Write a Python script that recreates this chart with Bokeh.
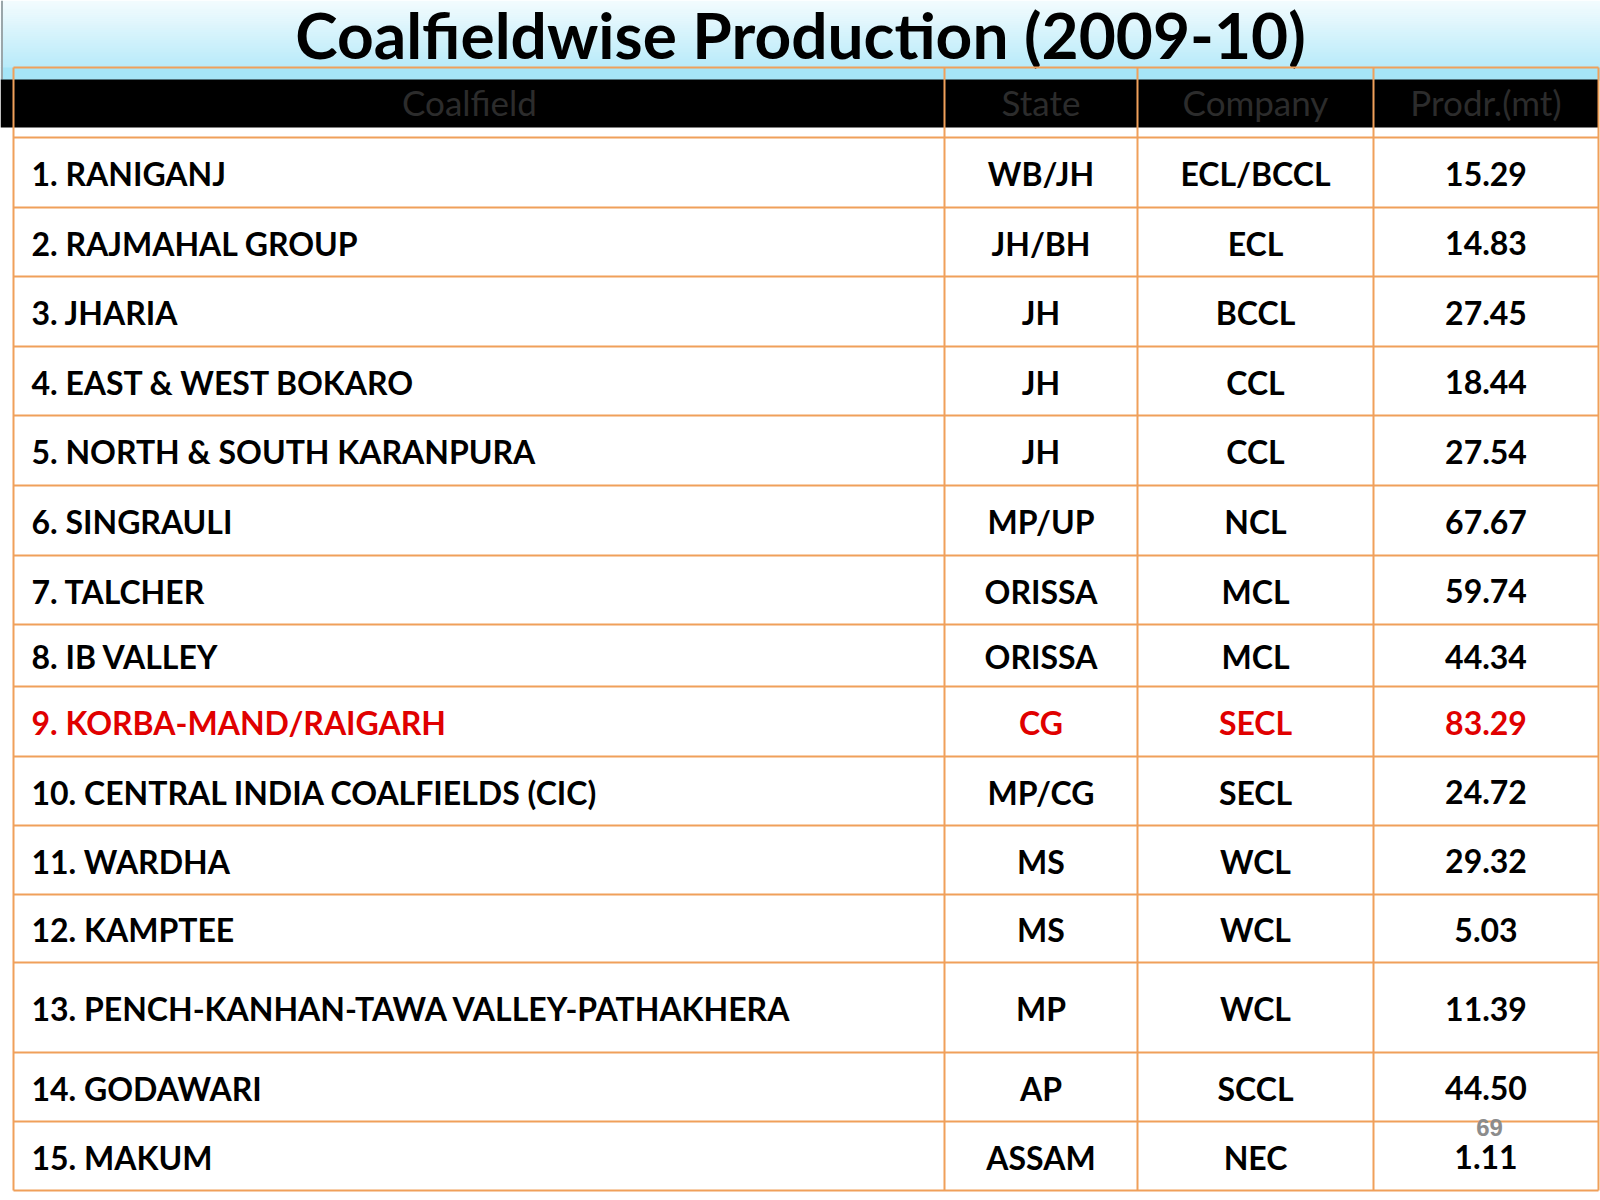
from bokeh.plotting import figure
from bokeh.models import ColumnDataSource, Range1d
from bokeh.core.properties import value
from bokeh.embed import file_html
from bokeh.resources import INLINE

# ---------------- data ----------------
title_text = "Coalfieldwise Production (2009-10)"
headers = ["Coalfield", "State", "Company", "Prodr.(mt)"]
coalfields = [
    "1. RANIGANJ", "2. RAJMAHAL GROUP", "3. JHARIA", "4. EAST & WEST BOKARO",
    "5. NORTH & SOUTH KARANPURA", "6. SINGRAULI", "7. TALCHER", "8. IB VALLEY",
    "9. KORBA-MAND/RAIGARH", "10. CENTRAL INDIA COALFIELDS (CIC)", "11. WARDHA",
    "12. KAMPTEE", "13. PENCH-KANHAN-TAWA VALLEY-PATHAKHERA", "14. GODAWARI",
    "15. MAKUM",
]
states = ["WB/JH", "JH/BH", "JH", "JH", "JH", "MP/UP", "ORISSA", "ORISSA", "CG",
          "MP/CG", "MS", "MS", "MP", "AP", "ASSAM"]
companies = ["ECL/BCCL", "ECL", "BCCL", "CCL", "CCL", "NCL", "MCL", "MCL", "SECL",
             "SECL", "WCL", "WCL", "WCL", "SCCL", "NEC"]
production = [15.29, 14.83, 27.45, 18.44, 27.54, 67.67, 59.74, 44.34, 83.29,
              24.72, 29.32, 5.03, 11.39, 44.50, 1.11]
highlight = "9. KORBA-MAND/RAIGARH"
page_number = "69"

# ---------------- layout / style ----------------
col_edges = [13, 944, 1137, 1373, 1598]
row_edges = [137, 207, 276, 346, 415, 485, 555, 624, 686, 756, 825, 894, 962,
             1052, 1121, 1190]
table_top = 67
header_top, header_bottom = 79, 127
orange = "#F0A05A"
red = "#E00000"
FONT = value("Lato")


def hex_to_rgb(h):
    h = h.lstrip("#")
    return tuple(int(h[i:i + 2], 16) for i in (0, 2, 4))


def blend(c1, c2, t):
    a, b = hex_to_rgb(c1), hex_to_rgb(c2)
    return "#%02x%02x%02x" % tuple(round(a[i] + (b[i] - a[i]) * t) for i in range(3))


p = figure(width=1600, height=1200, output_backend="svg", toolbar_location=None,
           x_range=Range1d(0, 1600), y_range=Range1d(1200, 0), min_border=0)
p.axis.visible = False
p.grid.visible = False
p.outline_line_color = None
p.background_fill_color = "white"
p.border_fill_color = "white"

# banner gradient
n = 34
b_top, b_bot = 0, table_top
strip_t, strip_b, strip_c = [], [], []
for i in range(n):
    y0 = b_top + (b_bot - b_top) * i / n
    y1 = b_top + (b_bot - b_top) * (i + 1) / n
    strip_t.append(y0)
    strip_b.append(y1 + 0.5)
    strip_c.append(blend("#f2fbfe", "#b9ebf9", i / (n - 1)))
p.quad(left=0, right=1600, top=strip_t, bottom=strip_b, fill_color=strip_c,
       line_color=None)
p.quad(left=0, right=1600, top=table_top, bottom=header_top + 1,
       fill_color="#a6e5f7", line_color=None)
# faint banner edge on the left
p.segment(x0=[1.5], x1=[1.5], y0=[0], y1=[header_top], line_color="#9aa6aa",
          line_width=2)

# black header band
p.quad(left=0, right=1598, top=header_top, bottom=header_bottom,
       fill_color="black", line_color=None)

# title
p.text(x=[800], y=[34], text=[title_text], text_font=FONT, text_font_size="64px",
       text_font_style="bold", text_color="black", text_align="center",
       text_baseline="middle")

# header texts
col_centers = [(col_edges[i] + col_edges[i + 1]) / 2 for i in range(4)]
hdr_x = [469] + col_centers[1:]
p.text(x=hdr_x, y=[(header_top + header_bottom) / 2 - 2] * 4, text=headers,
       text_font=FONT, text_font_size="35px", text_color="#2c2c2c",
       text_align="center", text_baseline="middle")

# body rows
row_mid = [(row_edges[i] + row_edges[i + 1]) / 2 + 1 for i in range(len(coalfields))]
colors = [red if c == highlight else "black" for c in coalfields]
src = ColumnDataSource(dict(
    y=row_mid, name=coalfields, state=states, company=companies,
    prod=[f"{v:.2f}" for v in production], color=colors,
))
common = dict(text_font=FONT, text_font_size="32px", text_font_style="bold",
              text_color="color", text_baseline="middle", source=src)
p.text(x=31, y="y", text="name", text_align="left", **common)
p.text(x=col_centers[1], y="y", text="state", text_align="center", **common)
p.text(x=col_centers[2], y="y", text="company", text_align="center", **common)
p.text(x=col_centers[3], y="y", text="prod", text_align="center", **common)

# grid lines
hy = [table_top] + row_edges
p.segment(x0=col_edges[0], x1=col_edges[-1], y0=hy, y1=hy, line_color=orange,
          line_width=2)
p.segment(x0=col_edges, x1=col_edges, y0=table_top, y1=row_edges[-1],
          line_color=orange, line_width=2)

# page number
p.text(x=[1489], y=[1127], text=[page_number], text_font=value("Liberation Sans"),
       text_font_size="24px", text_font_style="bold", text_color="#8c8c8c",
       text_align="center", text_baseline="middle")

open("out.html", "w").write(file_html(p, INLINE))
